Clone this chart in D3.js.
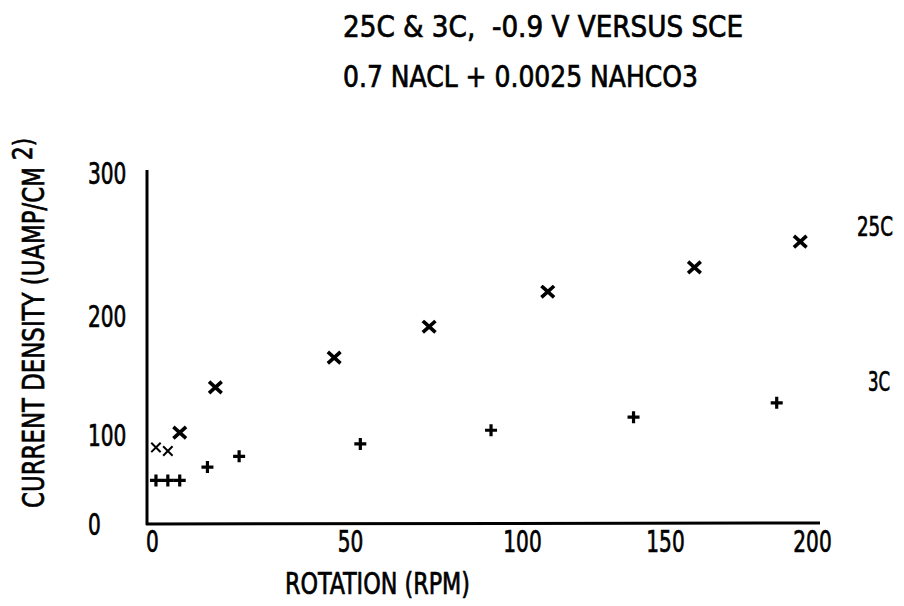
<!DOCTYPE html>
<html>
<head>
<meta charset="utf-8">
<script src="https://cdn.jsdelivr.net/npm/d3@7"></script>
<style>
  html, body { margin: 0; padding: 0; background: #fff; }
  svg { display: block; }
  text { font-family: "DejaVu Sans Condensed", "DejaVu Sans", sans-serif; font-stretch: condensed; fill: #000; stroke: #000; stroke-width: 0.7px; }
</style>
</head>
<body>
<svg id="chart" width="904" height="606"></svg>
<script>
// Rotation speed (rpm) and current density (uA/cm^2) at 25C and 3C
const rpm25 = [1, 4, 7, 16, 46, 73, 109, 160, 196];
const cd25  = [86, 82, 102, 140, 165, 191, 217, 234, 252];
const rpm3  = [1, 4, 7, 14, 22, 53, 91, 139, 188];
const cd3   = [49, 49, 49, 64, 76, 90, 104, 115, 127];

const xTicks = [0, 50, 100, 150, 200];
const yTicks = [0, 100, 200, 300];
const seriesNames = ["25C", "3C"];
const titleLines = ["25C & 3C,  -0.9 V VERSUS SCE", "0.7 NACL + 0.0025 NAHCO3"];
const xTitle = "ROTATION (RPM)";
const yTitleMain = "CURRENT DENSITY (UAMP/CM";
const yTitleSup = "2)";

const svg = d3.select("#chart");
const FS = 30;
const digitW = 12.8;

// Plotter axes: tick positions follow the hand-placed scale marks
const x = d3.scaleLinear().domain(xTicks).range([152, 350, 522, 665, 812]);
const y = d3.scaleLinear().domain(yTicks).range([524, 435, 316, 173]);

// Axis lines
const axisX0 = 147;
svg.append("line")
  .attr("x1", axisX0).attr("x2", axisX0)
  .attr("y1", y(0) + 1).attr("y2", y(300) - 3)
  .attr("stroke", "#000").attr("stroke-width", 3);
svg.append("line")
  .attr("x1", axisX0 - 1).attr("x2", x(200) + 8)
  .attr("y1", y(0)).attr("y2", y(0) - 1)
  .attr("stroke", "#000").attr("stroke-width", 3);

// X tick labels
const gx = svg.append("g")
  .attr("transform", `translate(0,${y(0)})`)
  .call(d3.axisBottom(x).tickValues(xTicks).tickSize(0).tickFormat(d3.format("d")));
gx.select(".domain").remove();
gx.selectAll("text")
  .attr("y", 28).attr("dy", 0)
  .attr("textLength", d => String(d).length * digitW)
  .attr("lengthAdjust", "spacingAndGlyphs")
  .style("font-size", FS + "px")
  .style("font-family", null);

// Y tick labels, left-aligned in a column
const gy = svg.append("g")
  .attr("transform", `translate(${axisX0},0)`)
  .call(d3.axisLeft(y).tickValues(yTicks).tickSize(0).tickFormat(d3.format("d")));
gy.select(".domain").remove();
gy.selectAll("text")
  .attr("text-anchor", "start")
  .attr("x", 88 - axisX0)
  .attr("dy", "0.36em")
  .attr("textLength", d => String(d).length * digitW)
  .attr("lengthAdjust", "spacingAndGlyphs")
  .style("font-size", FS + "px")
  .style("font-family", null);

// Titles
svg.append("text").attr("x", 343).attr("y", 37)
  .attr("textLength", 400).attr("lengthAdjust", "spacingAndGlyphs")
  .style("font-size", FS + "px").style("white-space", "pre").text(titleLines[0]);
svg.append("text").attr("x", 343).attr("y", 87)
  .attr("textLength", 355).attr("lengthAdjust", "spacingAndGlyphs")
  .style("font-size", FS + "px").text(titleLines[1]);

// Axis titles
svg.append("text").attr("x", 285).attr("y", 594)
  .attr("textLength", 185).attr("lengthAdjust", "spacingAndGlyphs")
  .style("font-size", FS + "px").text(xTitle);

const yt = svg.append("g").attr("transform", "translate(44,508) rotate(-90)");
yt.append("text").attr("x", 0).attr("y", 0)
  .attr("textLength", 341).attr("lengthAdjust", "spacingAndGlyphs")
  .style("font-size", FS + "px").text(yTitleMain);
yt.append("text").attr("x", 348).attr("y", -12)
  .attr("textLength", 22).attr("lengthAdjust", "spacingAndGlyphs")
  .style("font-size", "27px").text(yTitleSup);

// Series labels at the right end of each curve
svg.append("text").attr("x", 857).attr("y", 236)
  .attr("textLength", 36).attr("lengthAdjust", "spacingAndGlyphs")
  .style("font-size", "26px").text(seriesNames[0]);
svg.append("text").attr("x", 868).attr("y", 391)
  .attr("textLength", 22).attr("lengthAdjust", "spacingAndGlyphs")
  .style("font-size", "26px").text(seriesNames[1]);

// Markers
const plusPath = s => `M${-s},0H${s}M0,${-s}V${s}`;
const timesPath = (w, h) => `M${-w},${-h}L${w},${h}M${w},${-h}L${-w},${h}`;

const pts25 = rpm25.map((r, i) => ({ r, c: cd25[i], i }));
const pts3 = rpm3.map((r, i) => ({ r, c: cd3[i], i }));

svg.append("g").selectAll("path").data(pts25).join("path")
  .attr("transform", d => `translate(${x(d.r)},${y(d.c)})`)
  .attr("d", d => d.i < 2 ? timesPath(4, 4) : timesPath(5, 4.5))
  .attr("fill", "none").attr("stroke", "#000")
  .attr("stroke-width", d => d.i < 2 ? 2 : 3.6)
  .attr("stroke-linecap", "square");

svg.append("g").selectAll("path").data(pts3).join("path")
  .attr("transform", d => `translate(${x(d.r)},${y(d.c)})`)
  .attr("d", plusPath(6))
  .attr("fill", "none").attr("stroke", "#000")
  .attr("stroke-width", 3.2);
</script>
</body>
</html>
